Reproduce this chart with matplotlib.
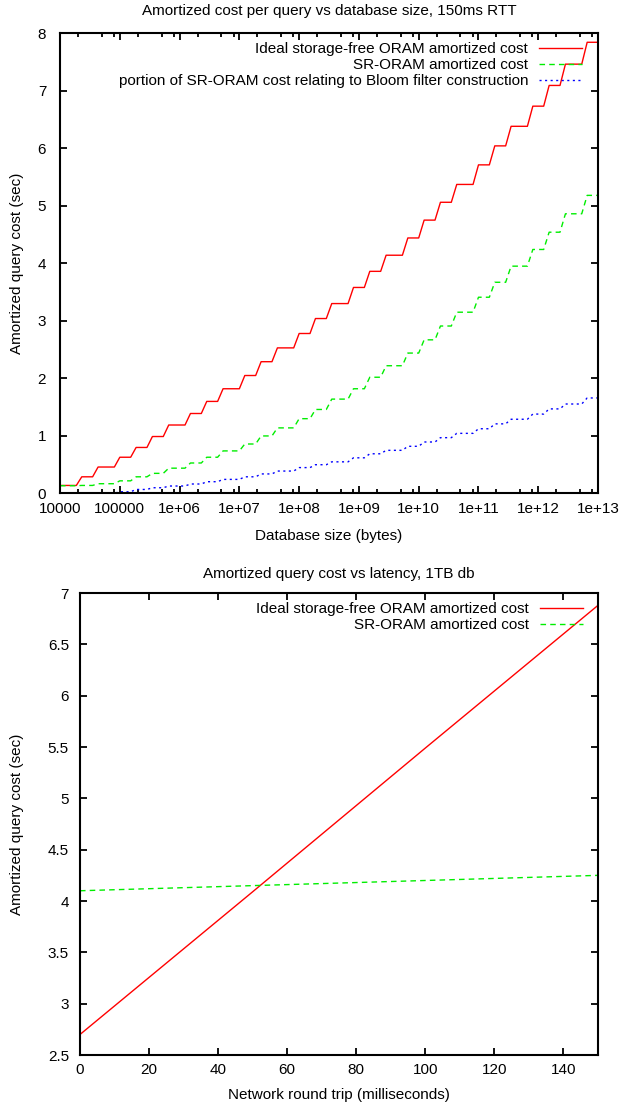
import numpy as np
import matplotlib
matplotlib.use("Agg")
import matplotlib.pyplot as plt
from matplotlib.ticker import FixedLocator, FuncFormatter, LogLocator, NullFormatter

plt.rcParams['font.family'] = ['Liberation Sans', 'DejaVu Sans']
plt.rcParams['font.size'] = 11

# --- top chart: cost vs database size (one level per doubling of size) ---
first_step_bytes = 20480
ideal_levels = [0.14, 0.29, 0.46, 0.63, 0.80, 0.99, 1.19, 1.39, 1.60, 1.82,
                2.05, 2.29, 2.53, 2.78, 3.04, 3.30, 3.58, 3.86, 4.14, 4.44,
                4.75, 5.06, 5.37, 5.71, 6.04, 6.38, 6.73, 7.09, 7.46, 7.84]
sr_levels = [0.135, 0.14, 0.17, 0.22, 0.29, 0.35, 0.44, 0.53, 0.63, 0.74,
             0.86, 1.00, 1.14, 1.30, 1.46, 1.64, 1.82, 2.02, 2.22, 2.44,
             2.67, 2.91, 3.15, 3.41, 3.67, 3.95, 4.24, 4.54, 4.86, 5.18]
bloom_levels = [0.0, 0.0, 0.005, 0.03, 0.07, 0.10, 0.13, 0.165, 0.205, 0.245,
                0.29, 0.34, 0.39, 0.45, 0.50, 0.55, 0.62, 0.69, 0.75, 0.82,
                0.895, 0.97, 1.045, 1.125, 1.21, 1.29, 1.38, 1.47, 1.555, 1.66]

# --- bottom chart: cost vs round trip time, 1TB db ---
rtt_ms = [0, 50, 100, 150]
ideal_rtt = [2.70, 4.09, 5.49, 6.88]
sr_rtt = [4.10, 4.15, 4.20, 4.25]

labels = ["Ideal storage-free ORAM amortized cost",
          "SR-ORAM amortized cost",
          "portion of SR-ORAM cost relating to Bloom filter construction"]

RED = '#ff0000'
GREEN = '#00ee00'
BLUE = '#0000ff'

# gnuplot-like sampling (100 samples over the log axis)
sizes = np.logspace(4, 13, 100)
edges = first_step_bytes * 2.0 ** np.arange(len(ideal_levels) - 1)
idx = np.searchsorted(edges, sizes, side='right')


def style_axes(ax, ypad):
    for s in ax.spines.values():
        s.set_linewidth(1.5)
    ax.tick_params(which='both', direction='in', top=True, right=True,
                   width=1.3, labelsize=11)
    ax.tick_params(axis='x', pad=6)
    ax.tick_params(axis='y', pad=ypad)
    ax.tick_params(which='major', length=5)
    ax.tick_params(which='minor', length=3)


def add_legend(ax, anchor):
    ax.legend(loc='upper right', bbox_to_anchor=anchor, frameon=False,
              markerfirst=False, fontsize=11, handlelength=2.8,
              handletextpad=0.7, labelspacing=0.14, borderaxespad=0,
              borderpad=0.4)


fig = plt.figure(figsize=(6.24, 11.06), dpi=100)

ax1 = fig.add_axes([0.0962, 0.5538, 0.8622, 0.4163])
ax1.plot(sizes, np.array(ideal_levels)[idx], color=RED, lw=1.0, label=labels[0])
ax1.plot(sizes, np.array(sr_levels)[idx], color=GREEN, lw=1.0,
         dashes=(4, 3), label=labels[1])
ax1.plot(sizes, np.array(bloom_levels)[idx], color=BLUE, lw=1.0,
         dashes=(1.5, 2.5), label=labels[2])
ax1.set_xscale('log')
ax1.set_xlim(1e4, 1e13)
ax1.set_ylim(0, 8)
ax1.xaxis.set_major_locator(FixedLocator([10.0 ** k for k in range(4, 14)]))
ax1.xaxis.set_minor_locator(LogLocator(base=10, subs=[2, 5, 8]))
ax1.xaxis.set_minor_formatter(NullFormatter())
ax1.xaxis.set_major_formatter(FuncFormatter(
    lambda v, p: "%d" % v if v < 1e6 else "1e+%02d" % round(np.log10(v))))
ax1.yaxis.set_major_locator(FixedLocator(range(0, 9)))
style_axes(ax1, 10)
ax1.set_title("Amortized cost per query vs database size, 150ms RTT", fontsize=11, pad=13)
ax1.set_xlabel("Database size (bytes)", fontsize=11)
ax1.set_ylabel("Amortized query cost (sec)", fontsize=11)
ax1.xaxis.set_label_coords(0.5, -0.078)
ax1.yaxis.set_label_coords(-0.067, 0.5)
add_legend(ax1, (0.981, 0.9935))

ax2 = fig.add_axes([0.1282, 0.0461, 0.8301, 0.4177])
ax2.plot(rtt_ms, ideal_rtt, color=RED, lw=1.0, label=labels[0])
ax2.plot(rtt_ms, sr_rtt, color=GREEN, lw=1.0, dashes=(4, 3), label=labels[1])
ax2.set_xlim(0, 150)
ax2.set_ylim(2.5, 7)
ax2.xaxis.set_major_locator(FixedLocator(range(0, 141, 20)))
ax2.yaxis.set_major_locator(FixedLocator(np.arange(2.5, 7.01, 0.5)))
ax2.yaxis.set_major_formatter(FuncFormatter(lambda v, p: "%g" % v))
style_axes(ax2, 8)
ax2.set_title("Amortized query cost vs latency, 1TB db", fontsize=11, pad=11)
ax2.set_xlabel("Network round trip (milliseconds)", fontsize=11)
ax2.set_ylabel("Amortized query cost (sec)", fontsize=11)
ax2.xaxis.set_label_coords(0.5, -0.0715)
ax2.yaxis.set_label_coords(-0.108, 0.5)
add_legend(ax2, (0.982, 0.9935))

fig.savefig("out.png", dpi=100)
